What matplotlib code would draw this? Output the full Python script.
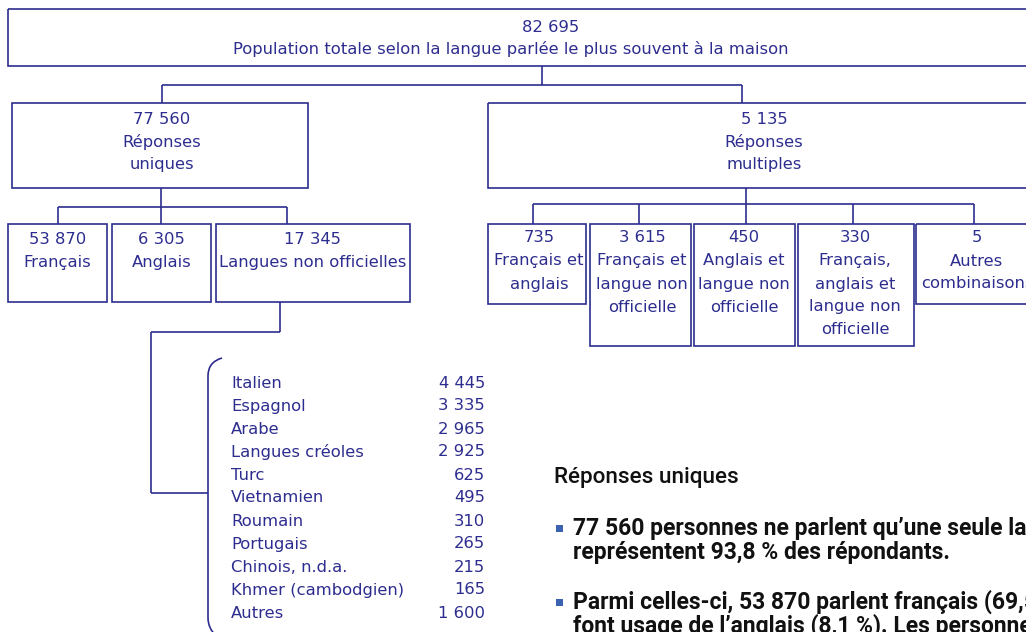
import matplotlib.pyplot as plt
from matplotlib.patches import Rectangle, PathPatch
from matplotlib.path import Path

# data
total_value = 82695
total_label = "Population totale selon la langue parlée le plus souvent à la maison"

group_labels = ["Réponses\nuniques", "Réponses\nmultiples"]
group_values = [77560, 5135]

single_labels = ["Français", "Anglais", "Langues non officielles"]
single_values = [53870, 6305, 17345]

multi_labels = ["Français et\nanglais",
                "Français et\nlangue non\nofficielle",
                "Anglais et\nlangue non\nofficielle",
                "Français,\nanglais et\nlangue non\nofficielle",
                "Autres\ncombinaisons"]
multi_values = [735, 3615, 450, 330, 5]

nonoff_labels = ["Italien", "Espagnol", "Arabe", "Langues créoles", "Turc",
                 "Vietnamien", "Roumain", "Portugais", "Chinois, n.d.a.",
                 "Khmer (cambodgien)", "Autres"]
nonoff_values = [4445, 3335, 2965, 2925, 625, 495, 310, 265, 215, 165, 1600]

heading = "Réponses uniques"
bullets = [
    ["77 560 personnes ne parlent qu\u2019une seule langue et elles",
     "représentent 93,8 % des répondants."],
    ["Parmi celles-ci, 53 870 parlent français (69,5 %) et 6 305",
     "font usage de l\u2019anglais (8,1 %). Les personnes qui"],
]

# layout (pixels)
top_box = (8, 9, 1100, 66)
group_boxes = [(12, 103, 308, 188), (488, 103, 1045, 188)]
single_boxes = [(8, 224, 107, 302), (112, 224, 211, 302), (216, 224, 410, 302)]
multi_boxes = [(488, 224, 586, 304), (590, 224, 691, 346), (694, 224, 795, 346),
               (798, 224, 914, 346), (916, 224, 1040, 304)]
multi_cx = [539, 642, 744, 855, 977]

blue = "#2d2d8f"
font = "DejaVu Sans"
fs = 11.8
lw = 1.2


def fmt(v):
    return f"{v:,}".replace(",", " ")


fig = plt.figure(figsize=(10.26, 6.32), dpi=100)
ax = fig.add_axes([0, 0, 1, 1])
ax.set_xlim(0, 1026)
ax.set_ylim(632, 0)
ax.axis("off")


def box(b):
    x0, y0, x1, y1 = b
    ax.add_patch(Rectangle((x0, y0), x1 - x0, y1 - y0, fill=False,
                           edgecolor=blue, lw=lw))


def seg(xs, ys):
    ax.plot(xs, ys, color=blue, lw=lw, solid_capstyle="butt")


def box_text(cx, y, lines, step=23):
    for i, t in enumerate(lines):
        ax.text(cx, y + i * step, t, ha="center", va="center",
                color=blue, fontsize=fs, family=font)


# top
box(top_box)
ax.text(551, 27, fmt(total_value), ha="center", va="center", color=blue,
        fontsize=fs, family=font)
ax.text(511, 49, total_label, ha="center", va="center", color=blue,
        fontsize=fs, family=font)
seg([542, 542], [66, 85])
seg([162, 742], [85, 85])
seg([162, 162], [85, 103])
seg([742, 742], [85, 103])

# groups
group_cx = [162, 764]
for b, cx, lab, v in zip(group_boxes, group_cx, group_labels, group_values):
    box(b)
    box_text(cx, 119, [fmt(v)] + lab.split("\n"), step=22.5)

# single answers
single_cx = [58, 161, 287]
seg([161, 161], [188, 207])
seg([58, 287], [207, 207])
for b, cx, lab, v in zip(single_boxes, single_cx, single_labels, single_values):
    seg([cx, cx], [207, 224])
    box(b)
    tx = (b[0] + b[2]) / 2
    box_text(tx, 239, [fmt(v)] + lab.split("\n"))

# multiple answers
conn_x = [533, 639, 746, 853, 974]
seg([746, 746], [188, 204])
seg([533, 974], [204, 204])
for b, cx, tx, lab, v in zip(multi_boxes, conn_x, multi_cx, multi_labels, multi_values):
    seg([cx, cx], [204, 224])
    box(b)
    box_text(tx, 238, [fmt(v)] + lab.split("\n"))

# non official languages list
seg([280, 280], [302, 332])
seg([151, 280], [332, 332])
seg([151, 151], [332, 493])
seg([151, 208], [493, 493])
verts = [(222, 358), (208, 362), (208, 376), (208, 618), (208, 628), (216, 636)]
codes = [Path.MOVETO, Path.CURVE3, Path.CURVE3, Path.LINETO, Path.CURVE3, Path.CURVE3]
ax.add_patch(PathPatch(Path(verts, codes), fill=False, edgecolor=blue, lw=lw))

for i, (lab, v) in enumerate(zip(nonoff_labels, nonoff_values)):
    y = 383 + i * 23
    ax.text(231, y, lab, ha="left", va="center", color=blue, fontsize=fs, family=font)
    ax.text(485, y, fmt(v), ha="right", va="center", color=blue, fontsize=fs, family=font)

# commentary
narrow = ["Roboto", "DejaVu Sans"]
ax.text(554, 483, heading, ha="left", va="baseline", color="#111111",
        fontsize=16.2, family=narrow, fontweight="medium")
bullet_y = [535, 609]
for by, para in zip(bullet_y, bullets):
    ax.add_patch(Rectangle((556, by - 10), 7, 7, color="#3a62b0", lw=0))
    for j, line in enumerate(para):
        ax.text(573, by + j * 24, line, ha="left", va="baseline",
                color="#111111", fontsize=16.5, family=narrow, fontweight="bold")

fig.savefig("out.png", dpi=100)
